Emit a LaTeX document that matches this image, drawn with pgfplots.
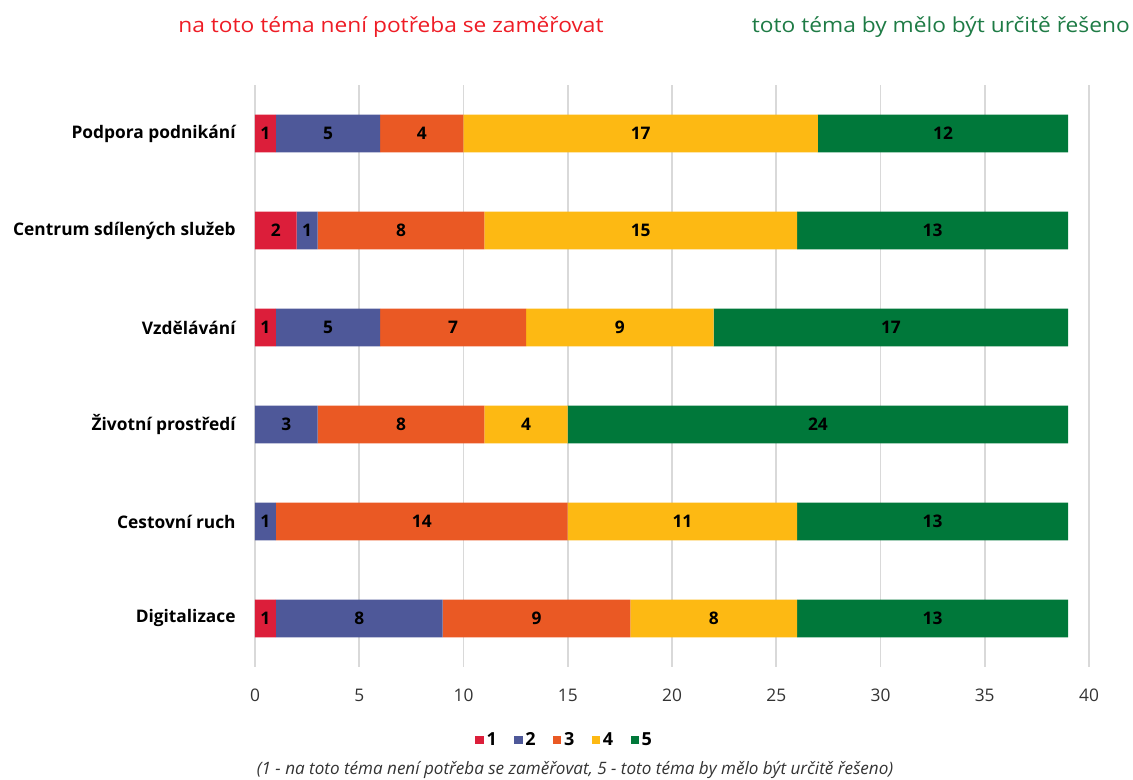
\documentclass[border=0pt]{standalone}
\usepackage{fontspec}
\setmainfont{Open Sans}
\usepackage{pgfplots}
\pgfplotsset{compat=1.18}
\definecolor{c1}{HTML}{DC1E3A}
\definecolor{c2}{HTML}{4E5899}
\definecolor{c3}{HTML}{EA5924}
\definecolor{c4}{HTML}{FDB913}
\definecolor{c5}{HTML}{00783A}
\definecolor{redtxt}{HTML}{EE1C25}
\definecolor{greentxt}{HTML}{1E7B45}
\definecolor{gridc}{HTML}{D9D9D9}
\begin{document}
\begin{tikzpicture}[x=1pt,y=1pt]
\useasboundingbox (0,0) rectangle (849.75,585);
\begin{axis}[at={(191.25pt,84.75pt)}, anchor=south west, scale only axis,
  width=625.5pt, height=436.5pt,
  xbar stacked, bar width=0.39,
  xmin=0, xmax=40, ymin=-0.5, ymax=5.5,
  xtick={0,5,...,40},
  ytick={0,...,5},
  yticklabels={Digitalizace, Cestovní ruch, Životní prostředí, Vzdělávání, Centrum sdílených služeb, Podpora podnikání},
  axis y line*=left, axis x line*=bottom,
  x axis line style={draw=none},
  y axis line style={draw=gridc, line width=1.2pt, -},
  xmajorgrids, major grid style={draw=gridc, line width=1.2pt},
  tick align=outside, major tick length=6pt,
  xtick style={draw=none}, ytick style={draw=none},
  extra y ticks={-0.5,0.5,1.5,2.5,3.5,4.5,5.5},
  extra y tick labels={},
  extra y tick style={tick style={draw=gridc, line width=1.2pt}},
  yticklabel style={font=\fontsize{13}{15}\selectfont\bfseries, xshift=-5pt},
  xticklabel style={font=\fontsize{13}{15}\selectfont, yshift=-7pt, text=black!80},
  /pgf/number format/assume math mode=true,
  point meta=rawx,
  nodes near coords={\pgfmathfloatifflags{\pgfplotspointmeta}{0}{}{\pgfmathprintnumber{\pgfplotspointmeta}}},
  nodes near coords style={font=\fontsize{13}{15}\selectfont\bfseries, text=black},
  legend style={at={(0.3717,-0.1254)}, anchor=center, draw=none, legend columns=-1,
    font=\fontsize{13.5}{15}\selectfont\bfseries,
    /tikz/every even column/.append style={column sep=11pt}},
  legend image code/.code={\fill[#1,draw=none] (0pt,-3.2pt) rectangle (6.4pt,3.2pt);},
]
\addplot[fill=c1, draw=none] coordinates {(1,0) (0,1) (0,2) (1,3) (2,4) (1,5)};
\addplot[fill=c2, draw=none] coordinates {(8,0) (1,1) (3,2) (5,3) (1,4) (5,5)};
\addplot[fill=c3, draw=none] coordinates {(9,0) (14,1) (8,2) (7,3) (8,4) (4,5)};
\addplot[fill=c4, draw=none] coordinates {(8,0) (11,1) (4,2) (9,3) (15,4) (17,5)};
\addplot[fill=c5, draw=none] coordinates {(13,0) (13,1) (24,2) (17,3) (13,4) (12,5)};
\legend{1,2,3,4,5}
\end{axis}
\node[anchor=base, text=redtxt, font=\fontsize{15.5}{18}\selectfont\addfontfeatures{FakeStretch=1.1}] at (293.25,560.25) {na toto téma není potřeba se zaměřovat};
\node[anchor=base east, text=greentxt, font=\fontsize{15.5}{18}\selectfont\addfontfeatures{FakeStretch=1.1}, inner sep=0pt] at (847.5,560.25) {toto téma by mělo být určitě řešeno};
\node[anchor=base, font=\fontsize{12.8}{15}\selectfont\itshape, text=black!80, inner sep=0pt] at (431.25,4) {(1 - na toto téma není potřeba se zaměřovat, 5 - toto téma by mělo být určitě řešeno)};
\end{tikzpicture}
\end{document}
